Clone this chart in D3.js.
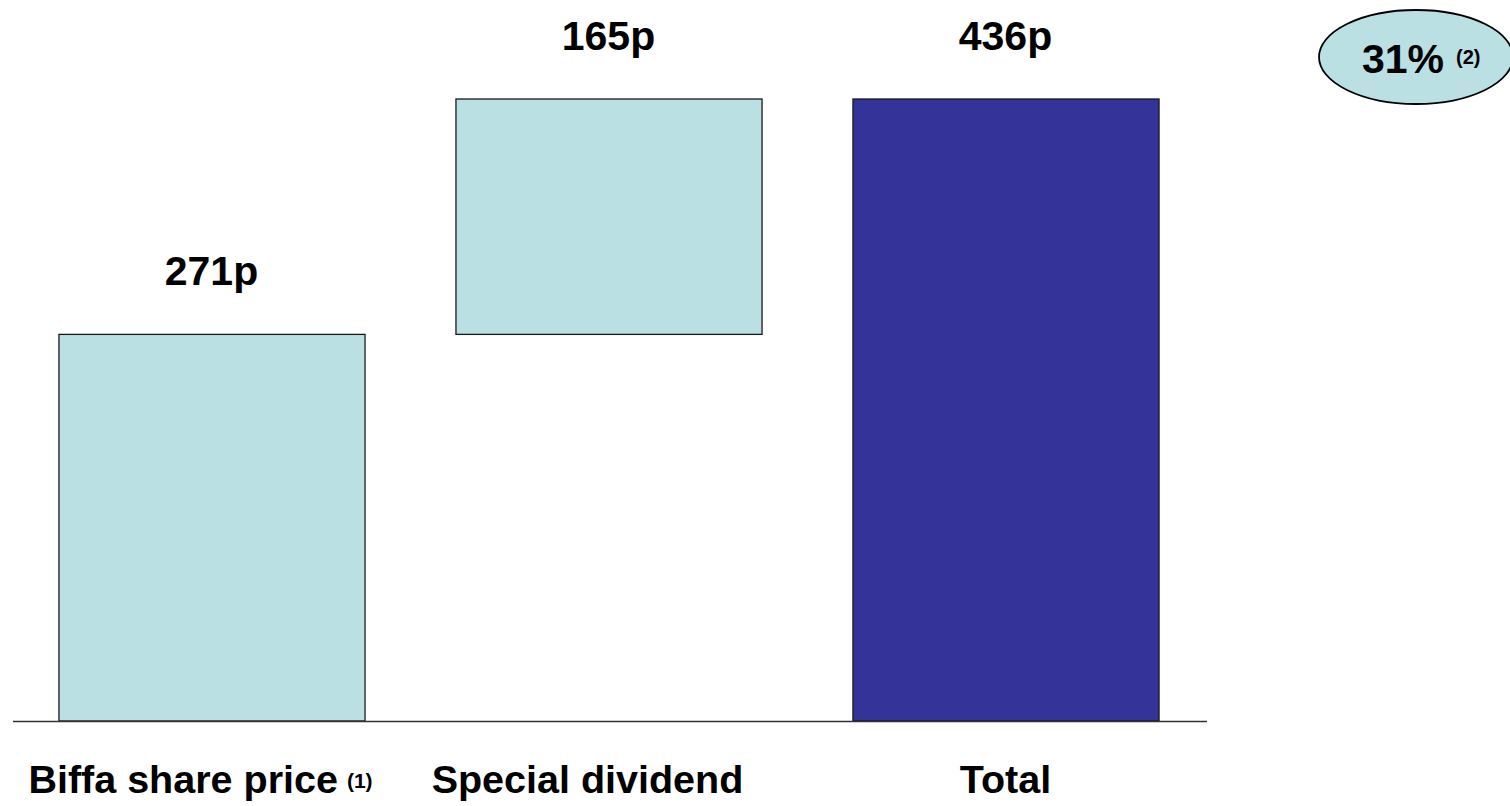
<!DOCTYPE html>
<html>
<head>
<meta charset="utf-8">
<script src="https://cdn.jsdelivr.net/npm/d3@7"></script>
<style>
  html, body { margin: 0; padding: 0; background: #fff; }
  svg { display: block; }
  text { font-family: Arial, "Liberation Sans", Helvetica, sans-serif; font-weight: bold; fill: #000; }
</style>
</head>
<body>
<svg id="chart" width="1510" height="806"></svg>
<script>
// ---- data ----
const categories = ["Biffa share price", "Special dividend", "Total"];
const footnotes = ["(1)", "", ""];
const starts = [0, 271, 0];
const values = [271, 165, 436];
const valueLabels = ["271p", "165p", "436p"];
const kinds = ["step", "step", "total"];
const badgeText = "31%";
const badgeNote = "(2)";

// ---- layout ----
const svg = d3.select("#chart");
const baseY = 721;
const topY = 99;

const x = d3.scaleBand()
  .domain(categories)
  .range([13, 1204])
  .paddingInner(0.229)
  .paddingOuter(0.1145);

const y = d3.scaleLinear()
  .domain([0, d3.max(values.map((v, i) => v + starts[i]))])
  .range([baseY, topY]);

const colors = { step: "#BAE0E3", total: "#333399" };

const rows = categories.map((c, i) => ({
  cat: c, start: starts[i], value: values[i], label: valueLabels[i],
  note: footnotes[i], kind: kinds[i]
}));

// bars
svg.append("g").selectAll("rect")
  .data(rows)
  .join("rect")
  .attr("x", d => x(d.cat) + 0.5)
  .attr("y", d => y(d.start + d.value))
  .attr("width", x.bandwidth())
  .attr("height", d => y(d.start) - y(d.start + d.value))
  .attr("fill", d => colors[d.kind])
  .attr("stroke", "#1a1a1a")
  .attr("stroke-width", 1.3);

// baseline axis
const axis = d3.axisBottom(x).tickSize(0).tickFormat("");
const gAxis = svg.append("g").attr("transform", `translate(0,${baseY})`).call(axis);
gAxis.select(".domain").remove();
gAxis.append("line")
  .attr("x1", 13).attr("x2", 1207)
  .attr("y1", 0.5).attr("y2", 0.5)
  .attr("stroke", "#333").attr("stroke-width", 1.5);

// value labels
svg.append("g").selectAll("text")
  .data(rows)
  .join("text")
  .attr("x", d => x(d.cat) + x.bandwidth() / 2)
  .attr("y", d => y(d.start + d.value) - 49)
  .attr("text-anchor", "middle")
  .attr("font-size", 41)
  .text(d => d.label);

// category labels
const labelShift = [-11, -21, 0];
const catG = svg.append("g");
rows.forEach((d, i) => {
  const t = catG.append("text")
    .attr("x", x(d.cat) + x.bandwidth() / 2 + labelShift[i])
    .attr("y", 793)
    .attr("text-anchor", "middle")
    .attr("font-size", 39.5);
  t.append("tspan").text(d.cat);
  if (d.note) {
    t.append("tspan").attr("font-size", 21).attr("dx", 9).attr("dy", -5).text(d.note);
  }
});

// badge ellipse
const badge = svg.append("g");
badge.append("ellipse")
  .attr("cx", 1416).attr("cy", 57)
  .attr("rx", 97).attr("ry", 47)
  .attr("fill", "#BAE0E3")
  .attr("stroke", "#000")
  .attr("stroke-width", 1.8);
const bt = badge.append("text")
  .attr("x", 1362).attr("y", 73)
  .attr("font-size", 41);
bt.append("tspan").text(badgeText);
bt.append("tspan").attr("font-size", 20).attr("dx", 12).attr("dy", -9).text(badgeNote);
</script>
</body>
</html>
